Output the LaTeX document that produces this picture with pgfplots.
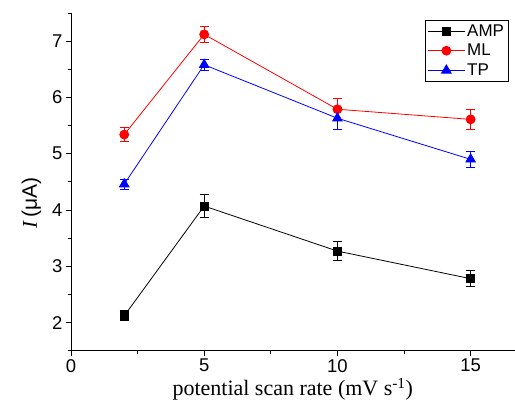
\documentclass[border=0pt]{standalone}
\usepackage{fontspec}
\setmainfont{Liberation Sans}
\newfontfamily\timesfont{Liberation Serif}
\usepackage{pgfplots}
\pgfplotsset{compat=1.18}
\begin{document}
\begin{tikzpicture}
\begin{axis}[
  scale only axis, width=444bp, height=338bp,
  xmin=0, xmax=16.65, ymin=1.5, ymax=7.5,
  axis lines=left, axis line style={-, line width=0.8bp},
  xtick={0,5,10,15}, minor xtick={2.5,7.5,12.5},
  ytick={2,3,4,5,6,7}, minor ytick={1.5,2.5,3.5,4.5,5.5,6.5,7.5},
  tick align=outside, major tick length=5bp, minor tick length=3bp,
  every tick/.style={black, line width=0.8bp},
  ticklabel style={font=\fontsize{18.5bp}{20bp}\selectfont},
  /pgf/number format/assume math mode=true,
  xlabel={\timesfont potential scan rate (mV s\textsuperscript{-1})},
  xlabel style={font=\fontsize{22bp}{24bp}\selectfont, inner sep=0pt, yshift=-2bp},
  ylabel={{\timesfont\itshape I\,}(μA)},
  ylabel style={font=\fontsize{21bp}{24bp}\selectfont, at={(ticklabel cs:0.438)}, yshift=4bp},
  legend style={at={(rel axis cs:0.986,0.979)}, anchor=north east,
    font=\fontsize{17bp}{18bp}\selectfont, draw=black, line width=0.8bp,
    inner sep=2bp, row sep=2.5bp},
  legend cell align=left,
  legend image code/.code={\draw[mark repeat=2,mark phase=2] plot coordinates {(0cm,0cm)(0.65cm,0cm)(1.3cm,0cm)};},
  every axis plot/.append style={line width=0.8bp},
  error bars/error bar style={line width=0.8bp},
  error bars/error mark options={rotate=90, mark size=4.5bp, line width=0.8bp},
]
\addplot[black, mark=square*, mark size=4bp, error bars/.cd, y dir=both, y explicit]
  coordinates {(2,2.12) +- (0,0.09) (5,4.07) +- (0,0.2) (10,3.27) +- (0,0.17) (15,2.78) +- (0,0.14)};
\addlegendentry{AMP}
\addplot[red, mark=*, mark size=4.5bp, error bars/.cd, y dir=both, y explicit]
  coordinates {(2,5.34) +- (0,0.12) (5,7.12) +- (0,0.15) (10,5.79) +- (0,0.19) (15,5.61) +- (0,0.18)};
\addlegendentry{ML}
\addplot[blue, mark=triangle*, mark size=5.5bp, error bars/.cd, y dir=both, y explicit]
  coordinates {(2,4.46) +- (0,0.09) (5,6.58) +- (0,0.1) (10,5.63) +- (0,0.19) (15,4.9) +- (0,0.14)};
\addlegendentry{TP}
\end{axis}
\path ([shift={(-71bp,-57bp)}]current axis.south west) rectangle ([shift={(0bp,13bp)}]current axis.north east);
\end{tikzpicture}
\end{document}
